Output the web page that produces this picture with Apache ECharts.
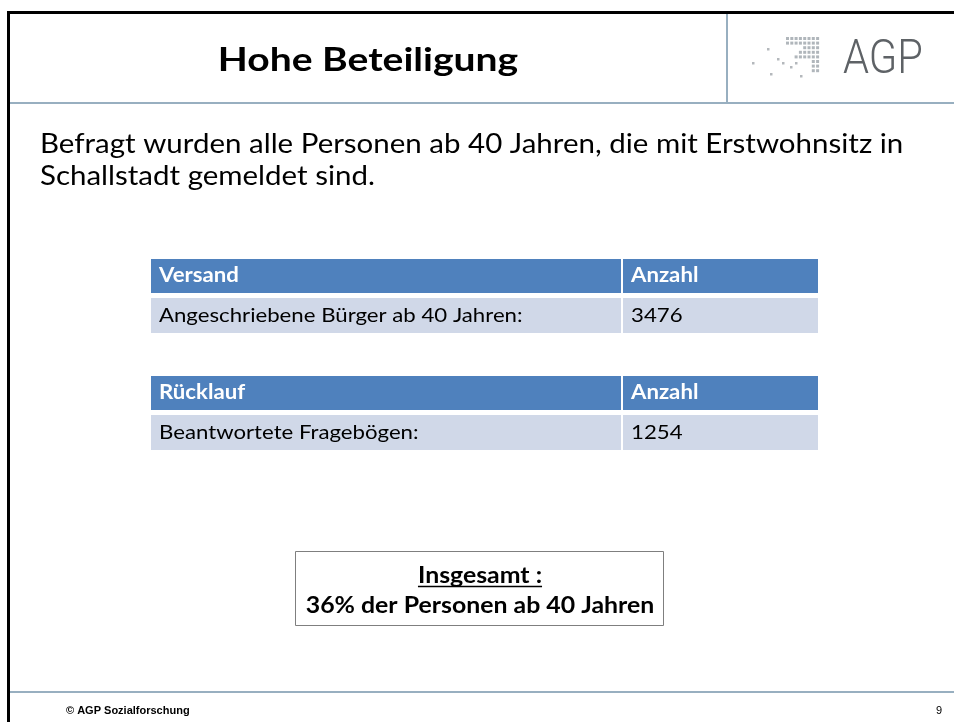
<!DOCTYPE html>
<html>
<head>
<meta charset="utf-8">
<script src="https://cdn.jsdelivr.net/npm/echarts@6/dist/echarts.min.js"></script>
<style>
  html, body { margin: 0; padding: 0; background: #fff; }
  #slide { width: 954px; height: 722px; }
</style>
</head>
<body>
<div id="slide"></div>
<script>
// slide content
const titleText = 'Hohe Beteiligung';
const introLines = [
    'Befragt wurden alle Personen ab 40 Jahren, die mit Erstwohnsitz in',
    'Schallstadt gemeldet sind.'
];
const tableHeaders = ['Versand', 'Rücklauf'];
const countHeader = 'Anzahl';
const rowLabels = ['Angeschriebene Bürger ab 40 Jahren:', 'Beantwortete Fragebögen:'];
const rowValues = [3476, 1254];
const summaryTitle = 'Insgesamt :';
const summaryShare = 36;
const footerText = '© AGP Sozialforschung';
const pageNumber = 9;

const FONT = 'Lato, Carlito, "Open Sans", sans-serif';
const LINE = '#98afc0';
const HEAD = '#4f81bd';
const CELL = '#d0d8e8';

// logo dots (decoration)
const logoScatter = [[767, 48], [752, 62], [777, 58], [782, 62], [790, 66], [795, 62], [770, 73], [800, 75]];
const logoGrid = [
    [0, 7], [0, 7], [4, 7], [3, 7], [2, 7], [6, 7], [6, 7], [6, 7]
];

function measure(text, font) {
    const ctx = document.createElement('canvas').getContext('2d');
    ctx.font = font;
    return ctx.measureText(text).width;
}

const g = [];

// frame
g.push({ type: 'line', shape: { x1: 8.5, y1: 12.5, x2: 954, y2: 12.5 }, style: { stroke: '#000', lineWidth: 3 } });
g.push({ type: 'line', shape: { x1: 8.5, y1: 11, x2: 8.5, y2: 722 }, style: { stroke: '#000', lineWidth: 3 } });
g.push({ type: 'line', shape: { x1: 10, y1: 103, x2: 954, y2: 103 }, style: { stroke: LINE, lineWidth: 2 } });
g.push({ type: 'line', shape: { x1: 727, y1: 14, x2: 727, y2: 102 }, style: { stroke: LINE, lineWidth: 2 } });
g.push({ type: 'line', shape: { x1: 10, y1: 692, x2: 954, y2: 692 }, style: { stroke: LINE, lineWidth: 2 } });

// title
g.push({ type: 'text', x: 368, y: 61, scaleX: 1.22, style: {
    text: titleText, font: 'bold 32px ' + FONT, fill: '#000', align: 'center', verticalAlign: 'middle' } });

// logo
logoScatter.forEach(p => g.push({ type: 'rect', shape: { x: p[0], y: p[1], width: 2.5, height: 2.5 }, style: { fill: '#b4b8bc' } }));
logoGrid.forEach((r, i) => {
    for (let c = r[0]; c <= r[1]; c++) {
        g.push({ type: 'rect', shape: { x: 786 + c * 4.3, y: 37 + i * 4.6, width: 3, height: 3 }, style: { fill: '#b0b6bb' } });
    }
});
g.push({ type: 'text', x: 843, y: 61, scaleX: 0.85, style: {
    text: 'AGP', font: '300 49px Roboto, sans-serif', fill: '#5e6266', align: 'left', verticalAlign: 'middle' } });

// intro text
introLines.forEach((t, i) => g.push({ type: 'text', x: 40, y: 144 + i * 32, scaleX: 1.092, style: {
    text: t, font: '27px ' + FONT, fill: '#000', align: 'left', verticalAlign: 'middle' } }));

// tables
const tx = 151, tSplit = 622, tRight = 818;
const tableTops = [259, 376];
tableHeaders.forEach((h, i) => {
    const top = tableTops[i];
    const rows = [
        { y: top, h: 34, fill: HEAD, a: h, b: countHeader, font: 'bold 20px ' + FONT, color: '#fff' },
        { y: top + 39, h: 35, fill: CELL, a: rowLabels[i], b: String(rowValues[i]), font: '20px ' + FONT, color: '#000' }
    ];
    rows.forEach(r => {
        g.push({ type: 'rect', shape: { x: tx, y: r.y, width: tSplit - tx - 1, height: r.h }, style: { fill: r.fill } });
        g.push({ type: 'rect', shape: { x: tSplit + 1, y: r.y, width: tRight - tSplit - 1, height: r.h }, style: { fill: r.fill } });
        g.push({ type: 'text', x: tx + 8, y: r.y + r.h / 2, scaleX: 1.11, style: { text: r.a, font: r.font, fill: r.color, verticalAlign: 'middle' } });
        g.push({ type: 'text', x: tSplit + 9, y: r.y + r.h / 2, scaleX: 1.11, style: { text: r.b, font: r.font, fill: r.color, verticalAlign: 'middle' } });
    });
});

// summary box
g.push({ type: 'rect', shape: { x: 295.5, y: 551.5, width: 368, height: 74 }, style: { fill: '#fff', stroke: '#7f7f7f', lineWidth: 1 } });
const sumFont = 'bold 22px ' + FONT;
const sumScale = 1.13;
g.push({ type: 'text', x: 480, y: 576, scaleX: sumScale, style: { text: summaryTitle, font: sumFont, fill: '#000', align: 'center', verticalAlign: 'middle' } });
const uw = measure(summaryTitle, sumFont) * sumScale;
g.push({ type: 'line', shape: { x1: 480 - uw / 2, y1: 586.5, x2: 480 + uw / 2, y2: 586.5 }, style: { stroke: '#000', lineWidth: 1.5 } });
g.push({ type: 'text', x: 480, y: 606, scaleX: sumScale, style: {
    text: summaryShare + '% der Personen ab 40 Jahren', font: sumFont, fill: '#000', align: 'center', verticalAlign: 'middle' } });

// footer
g.push({ type: 'text', x: 66, y: 711, style: { text: footerText, font: 'bold 11px "Liberation Sans", Arial, sans-serif', fill: '#000', verticalAlign: 'middle' } });
g.push({ type: 'text', x: 942, y: 711, style: { text: String(pageNumber), font: '11px "Liberation Sans", Arial, sans-serif', fill: '#000', align: 'right', verticalAlign: 'middle' } });

const chart = echarts.init(document.getElementById('slide'), null, { renderer: 'canvas' });
chart.setOption({ animation: false, graphic: { elements: g } });
window.addEventListener('resize', chart.resize);
</script>
</body>
</html>
